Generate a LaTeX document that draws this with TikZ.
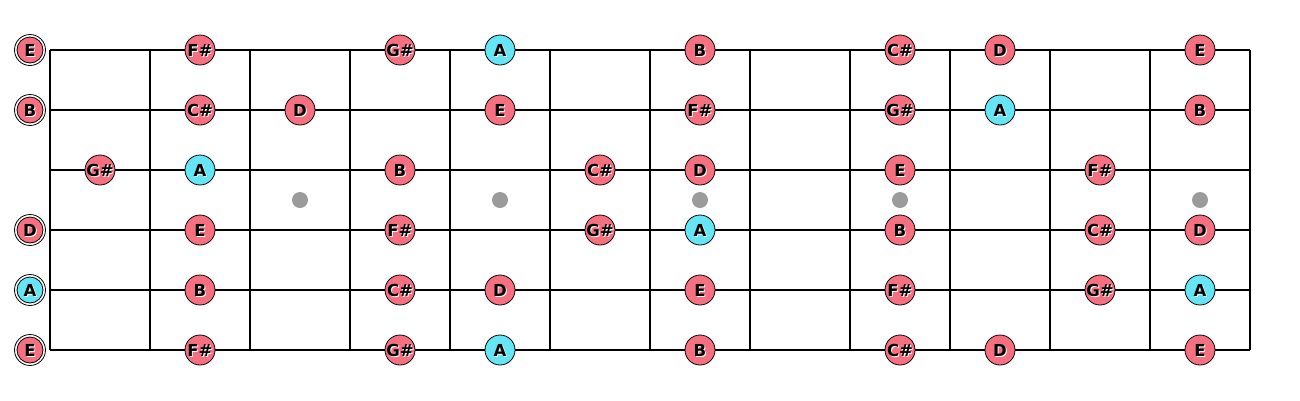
\documentclass[tikz,border=0pt]{standalone}
\usepackage{fontspec}
\newfontfamily\notefont{DejaVu Sans Bold}
\definecolor{notepink}{RGB}{247,112,128}
\definecolor{notecyan}{RGB}{100,230,246}
\definecolor{dotgray}{RGB}{155,155,155}
\tikzset{
  fretline/.style={line width=2pt, black},
  note/.style={circle, draw=black, line width=0.8pt, minimum size=30pt, inner sep=0pt},
  opennote/.style={circle, draw=black, line width=0.8pt, minimum size=26pt, inner sep=0pt},
  ring/.style={circle, draw=black, line width=0.8pt, minimum size=31pt, inner sep=0pt},
  inlay/.style={circle, fill=dotgray, minimum size=16pt, inner sep=0pt},
  lbl/.style={font=\notefont\fontsize{16.5}{16.5}\selectfont, inner sep=0pt},
}
\newcommand{\notelabel}[2]{%
  \node[lbl, white] at ([xshift=1pt,yshift=-1pt]#1) {#2};
  \node[lbl, black] at (#1) {#2};}
\begin{document}
\begin{tikzpicture}[x=1pt,y=-1pt]
\useasboundingbox (0,0) rectangle (1300,400);
% strings
\foreach \s/\y in {1/50,2/110,3/170,4/230,5/290,6/350}{
  \coordinate (s\s a) at (50,\y);
  \coordinate (s\s b) at (1250,\y);
  \draw[fretline] (s\s a) -- (s\s b);
}
% frets
\foreach \f in {0,...,12}{
  \coordinate (f\f t) at ({50+100*\f},50);
  \coordinate (f\f b) at ({50+100*\f},350);
  \draw[fretline] (f\f t) -- (f\f b);
}
% inlays
\foreach \x [count=\i] in {300,500,700,900,1200}{
  \node[inlay] (dot\i) at (\x,200) {};
}
% open strings
\foreach \s/\y/\n/\c in {1/50/E/notepink,2/110/B/notepink,4/230/D/notepink,5/290/A/notecyan,6/350/E/notepink}{
  \node[ring] (r\s) at (30,\y) {};
  \node[opennote, fill=\c] (o\s) at (30,\y) {};
  \notelabel{o\s}{\n}
}
% fretted notes
\foreach \s/\y/\list in {
  1/50/{200/F\#/notepink,400/G\#/notepink,500/A/notecyan,700/B/notepink,900/C\#/notepink,1000/D/notepink,1200/E/notepink},
  2/110/{200/C\#/notepink,300/D/notepink,500/E/notepink,700/F\#/notepink,900/G\#/notepink,1000/A/notecyan,1200/B/notepink},
  3/170/{100/G\#/notepink,200/A/notecyan,400/B/notepink,600/C\#/notepink,700/D/notepink,900/E/notepink,1100/F\#/notepink},
  4/230/{200/E/notepink,400/F\#/notepink,600/G\#/notepink,700/A/notecyan,900/B/notepink,1100/C\#/notepink,1200/D/notepink},
  5/290/{200/B/notepink,400/C\#/notepink,500/D/notepink,700/E/notepink,900/F\#/notepink,1100/G\#/notepink,1200/A/notecyan},
  6/350/{200/F\#/notepink,400/G\#/notepink,500/A/notecyan,700/B/notepink,900/C\#/notepink,1000/D/notepink,1200/E/notepink}}{
  \foreach \x/\n/\c in \list {
    \node[note, fill=\c] (n\s-\x) at (\x,\y) {};
    \notelabel{n\s-\x}{\n}
  }
}
\end{tikzpicture}
\end{document}
